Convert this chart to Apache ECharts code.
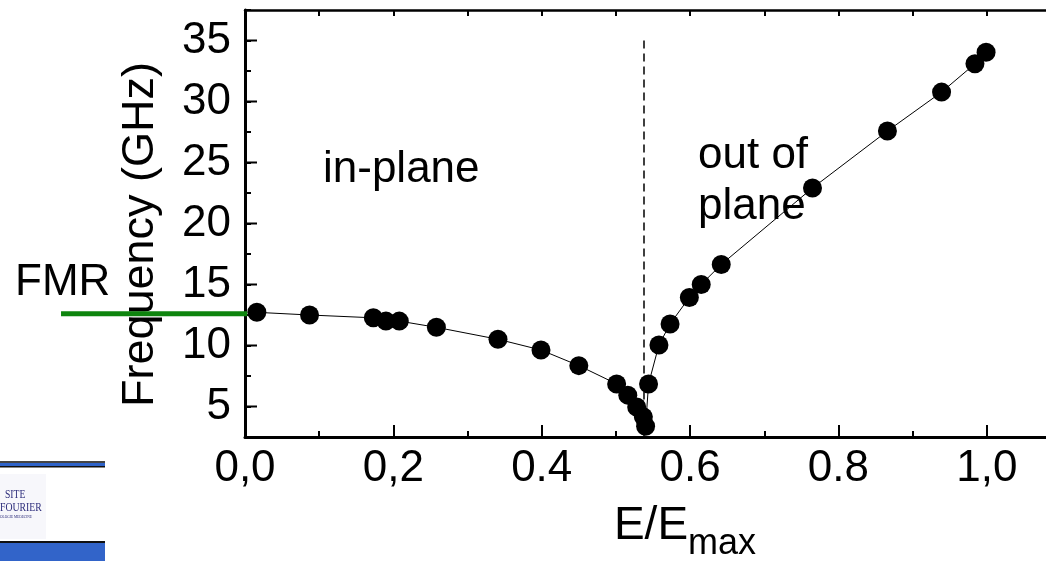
<!DOCTYPE html>
<html>
<head>
<meta charset="utf-8">
<script src="https://cdn.jsdelivr.net/npm/echarts@6/dist/echarts.min.js"></script>
<style>
html,body{margin:0;padding:0;background:#fff;}
#main{width:1046px;height:561px;}
</style>
</head>
<body>
<div id="main"></div>
<script>
// data
var fieldRatio = [0.016, 0.087, 0.173, 0.190, 0.208, 0.258, 0.341, 0.399, 0.450, 0.501, 0.516, 0.528, 0.537, 0.540,
	0.544, 0.558, 0.573, 0.599, 0.615, 0.642, 0.765, 0.866, 0.939, 0.984, 0.999];
var frequency = [12.72, 12.50, 12.27, 12.0, 12.0, 11.49, 10.51, 9.63, 8.35, 6.85, 5.93, 4.96, 4.15, 3.38,
	6.85, 10.04, 11.76, 13.94, 15.0, 16.64, 22.91, 27.58, 30.77, 33.09, 34.04];
var transitionX = 0.538;
var fmrX = [-0.248, 0.003];
var fmrFreq = 12.6;
var xTickLabels = ['0,0', '0,2', '0.4', '0.6', '0.8', '1,0'];
var yTickValues = [5, 10, 15, 20, 25, 30, 35];

var FONT = "'Liberation Sans', Arial, sans-serif";

var page = {
	init: function () {
		this.chart = echarts.init(document.getElementById('main'), null, {renderer: 'canvas'});
		this.renderChart();
	},
	renderChart: function () {
		var points = [];
		for (var i = 0; i < fieldRatio.length; i++) {
			points.push([fieldRatio[i], frequency[i]]);
		}
		var majorY = yTickValues.map(function (v) { return [0, v]; });

		var xBase = {
			type: 'value', min: 0, max: 1.1, interval: 0.1,
			splitLine: {show: false},
			axisLabel: {show: false}
		};

		this.chart.setOption({
			animation: false,
			grid: {left: 245, right: -15, top: 10, bottom: 124, outerBoundsMode: 'none'},
			xAxis: [
				echarts.util.merge({
					position: 'bottom',
					axisLine: {lineStyle: {color: '#000', width: 3}},
					axisTick: {inside: true, length: 6, lineStyle: {color: '#000', width: 2}},
					name: '{a|E/E}{b|max}',
					nameLocation: 'middle',
					nameGap: 66,
					nameTextStyle: {
						padding: [0, 0, 0, 64],
						rich: {
							a: {fontSize: 46, fontFamily: FONT, color: '#000', verticalAlign: 'top'},
							b: {fontSize: 36, fontFamily: FONT, color: '#000', verticalAlign: 'top', padding: [23, 0, 0, 0]}
						}
					}
				}, xBase, true),
				{
					type: 'value', min: 0, max: 1.1, interval: 0.2,
					position: 'bottom',
					splitLine: {show: false},
					axisLine: {show: false},
					axisTick: {inside: true, length: 12, lineStyle: {color: '#000', width: 2}},
					axisLabel: {
						margin: 10, fontSize: 44, fontFamily: FONT, color: '#000',
						formatter: function (v, idx) { return xTickLabels[idx] || ''; }
					}
				},
				echarts.util.merge({
					position: 'top',
					axisLine: {lineStyle: {color: '#000', width: 2.5}},
					axisTick: {inside: true, length: 6, lineStyle: {color: '#000', width: 2}}
				}, xBase, true)
			],
			yAxis: {
				type: 'value', min: 2.5, max: 37.5, interval: 2.5,
				splitLine: {show: false},
				axisLine: {show: true, lineStyle: {color: '#000', width: 3}},
				axisTick: {show: true, inside: true, length: 6, lineStyle: {color: '#000', width: 2}},
				axisLabel: {
					margin: 14, fontSize: 44, fontFamily: FONT, color: '#000',
					formatter: function (v) { return v % 5 === 0 ? String(v) : ''; }
				},
				name: 'Frequency (GHz)',
				nameLocation: 'middle',
				nameGap: 82,
				nameTextStyle: {fontSize: 45, fontFamily: FONT, color: '#000', padding: [0, 22, 0, 0]}
			},
			series: [
				{
					// longer major ticks on the frequency axis
					type: 'custom',
					silent: true,
					data: majorY,
					renderItem: function (params, api) {
						var p = api.coord([api.value(0), api.value(1)]);
						return {
							type: 'line',
							shape: {x1: p[0], y1: p[1], x2: p[0] + 12, y2: p[1]},
							style: {stroke: '#000', lineWidth: 2}
						};
					}
				},
				{
					// green FMR marker, runs left of the axis
					type: 'custom',
					silent: true,
					clip: false,
					z: 4,
					data: [[fmrX[1], fmrFreq, fmrX[1] - fmrX[0]]],
					renderItem: function (params, api) {
						var end = api.coord([api.value(0), api.value(1)]);
						var len = api.size([api.value(2), 0])[0];
						return {
							type: 'line',
							shape: {x1: end[0] - len, y1: end[1], x2: end[0], y2: end[1]},
							style: {stroke: '#0e850e', lineWidth: 5}
						};
					}
				},
				{
					type: 'line',
					data: points,
					symbol: 'circle',
					symbolSize: 19,
					itemStyle: {color: '#000'},
					lineStyle: {color: '#000', width: 1},
					z: 3,
					markLine: {
						silent: true,
						symbol: 'none',
						label: {show: false},
						lineStyle: {color: '#000', width: 1.5, type: [8, 5]},
						data: [[{coord: [transitionX, 35]}, {coord: [transitionX, 2.5]}]]
					}
				}
			],
			graphic: [
				{type: 'text', left: 323, top: 148, style: {text: 'in-plane', font: '44px ' + FONT, fill: '#000'}},
				{type: 'text', left: 698, top: 134, style: {text: 'out of', font: '44px ' + FONT, fill: '#000'}},
				{type: 'text', left: 698, top: 185, style: {text: 'plane', font: '44px ' + FONT, fill: '#000'}},
				{type: 'text', left: 15, top: 261, style: {text: 'FMR', font: '44px ' + FONT, fill: '#000'}},
				// slide logo fragment, bottom left
				{type: 'rect', shape: {x: 0, y: 461, width: 105, height: 2}, style: {fill: '#444'}},
				{type: 'rect', shape: {x: 0, y: 463, width: 105, height: 3}, style: {fill: '#2e62c8'}},
				{type: 'rect', shape: {x: 0, y: 466, width: 105, height: 1.5}, style: {fill: '#111'}},
				{type: 'rect', shape: {x: 0, y: 474, width: 46, height: 65}, style: {fill: '#f7f7fb'}},
				{type: 'text', x: 5, y: 489, scaleX: 0.8, style: {text: 'SITE', font: '12px "Liberation Serif", serif', fill: '#2b2b7a'}},
				{type: 'text', x: 0, y: 501, scaleX: 0.75, style: {text: 'FOURIER', font: '13px "Liberation Serif", serif', fill: '#2b2b7a'}},
				{type: 'text', x: 0, y: 514, scaleX: 0.7, style: {text: 'OLOGIE MEDECINE', font: '5px "Liberation Serif", serif', fill: '#2b2b7a'}},
				{type: 'rect', shape: {x: 0, y: 541, width: 105, height: 2}, style: {fill: '#111'}},
				{type: 'rect', shape: {x: 0, y: 543, width: 105, height: 18}, style: {fill: '#3264c9'}}
			]
		});
	}
};
page.init();
</script>
</body>
</html>
